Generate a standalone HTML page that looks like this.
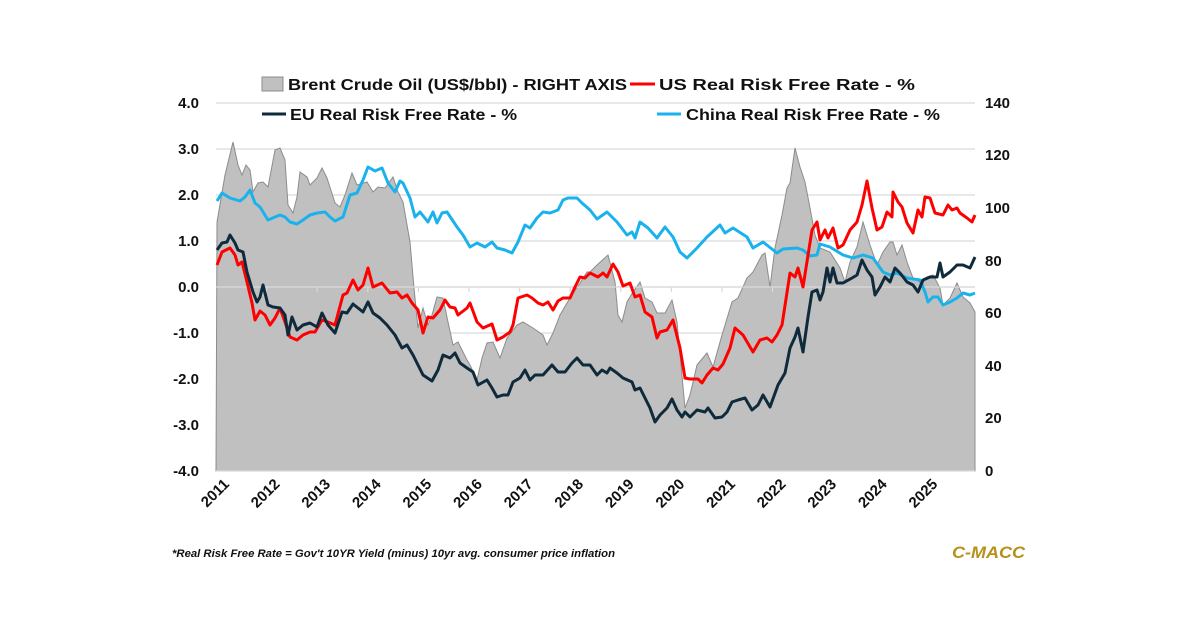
<!DOCTYPE html>
<html><head><meta charset="utf-8"><style>
body{margin:0;background:#fff;}
svg{display:block;font-family:"Liberation Sans",sans-serif;}
</style></head><body>
<svg width="1200" height="627" viewBox="0 0 1200 627" xmlns="http://www.w3.org/2000/svg">
<rect width="1200" height="627" fill="#fff"/>
<g stroke="#d9d9d9" stroke-width="1.2">
<line x1="216" x2="975" y1="103" y2="103"/><line x1="216" x2="975" y1="149" y2="149"/>
<line x1="216" x2="975" y1="195" y2="195"/><line x1="216" x2="975" y1="241" y2="241"/>
<line x1="216" x2="975" y1="287" y2="287"/><line x1="216" x2="975" y1="333" y2="333"/>
<line x1="216" x2="975" y1="379" y2="379"/><line x1="216" x2="975" y1="425" y2="425"/>
</g>
<polygon fill="#c0c0c0" stroke="#8c8c8c" stroke-width="1" points="216,471 217,222 225,175 233,142 238,165 242,175 246,165 250,170 253,192 258,183 263,182 268,187 275,150 280,148 285,160 288,205 293,213 297,197 300,172 307,177 310,185 317,178 322,168 327,178 335,203 340,207 345,195 352,173 357,185 367,182 373,192 378,187 385,188 393,177 398,192 403,202 410,242 414,288 418,328 423,308 428,325 432,315 437,297 443,298 448,322 453,345 458,342 467,360 470,365 477,380 482,358 487,343 493,342 500,358 507,338 517,325 523,322 533,328 543,335 547,345 553,333 560,315 570,298 580,283 587,272 590,272 597,265 608,255 615,282 618,315 622,322 627,302 633,292 640,282 645,298 652,302 657,313 665,313 672,300 677,322 685,408 690,395 697,365 707,353 713,367 722,335 732,302 738,298 747,278 753,272 762,255 765,253 770,287 775,248 782,215 787,188 790,183 795,148 800,167 805,182 810,208 815,235 820,248 830,252 840,268 845,282 850,262 857,247 863,222 870,245 877,265 883,252 890,242 893,242 897,255 902,245 907,262 913,278 920,282 927,277 933,275 940,288 943,305 950,298 957,283 963,297 970,303 975,312 975,471"/>
<g stroke="#d9d9d9" stroke-width="1.2">
<line x1="216" x2="975" y1="287" y2="287"/>
<line x1="266.6" x2="266.6" y1="287" y2="292"/><line x1="317.2" x2="317.2" y1="287" y2="292"/><line x1="367.8" x2="367.8" y1="287" y2="292"/><line x1="418.4" x2="418.4" y1="287" y2="292"/><line x1="469" x2="469" y1="287" y2="292"/><line x1="519.6" x2="519.6" y1="287" y2="292"/><line x1="570.2" x2="570.2" y1="287" y2="292"/><line x1="620.8" x2="620.8" y1="287" y2="292"/><line x1="671.4" x2="671.4" y1="287" y2="292"/><line x1="722" x2="722" y1="287" y2="292"/><line x1="772.6" x2="772.6" y1="287" y2="292"/><line x1="823.2" x2="823.2" y1="287" y2="292"/><line x1="873.8" x2="873.8" y1="287" y2="292"/><line x1="924.4" x2="924.4" y1="287" y2="292"/>
</g>
<line x1="216" x2="975" y1="471" y2="471" stroke="#d9d9d9" stroke-width="1.2"/>
<g fill="none" stroke-width="3" stroke-linejoin="round">
<polyline stroke="#19b2ec" points="217,201 222,193 230,198 240,201 245,197 250,190 255,203 260,207 268,220 275,217 280,215 285,217 290,222 297,224 303,220 310,215 317,213 325,212 330,217 335,221 343,217 350,195 357,193 363,180 368,167 375,171 382,168 388,183 395,192 400,181 403,183 410,198 415,217 420,212 428,222 433,212 437,223 442,213 447,212 457,227 463,235 470,247 477,243 485,247 492,242 497,248 505,250 512,253 518,242 525,225 530,228 537,218 543,212 550,213 558,210 563,200 568,198 577,198 582,203 590,210 597,219 607,212 617,222 627,235 632,232 635,238 640,222 648,228 657,238 665,227 673,237 680,252 687,258 697,248 707,237 720,225 725,233 733,228 747,237 753,248 763,242 777,253 783,249 797,248 803,250 810,256 817,255 820,244 830,247 843,255 853,258 863,255 873,258 883,272 890,275 897,273 907,278 920,280 925,292 928,302 933,297 938,297 943,305 950,302 957,298 963,293 970,295 975,293"/>
<polyline stroke="#ff0000" points="217,265 222,252 230,248 235,255 238,265 242,262 247,282 252,303 255,320 260,311 265,315 270,325 275,318 280,308 285,322 290,337 297,340 303,335 310,332 315,332 322,320 328,322 335,325 343,295 347,293 353,280 358,290 363,285 368,268 373,287 382,283 390,293 397,292 402,298 407,295 412,303 418,310 423,333 428,317 433,318 440,310 445,300 450,307 455,308 458,315 467,308 470,303 477,322 483,328 492,324 497,340 503,337 510,332 513,325 518,298 527,295 532,298 538,303 543,305 548,302 553,310 558,301 563,298 570,298 575,287 580,277 585,278 590,273 598,277 603,273 607,277 613,264 618,272 623,286 630,283 635,297 640,295 645,312 652,317 657,338 660,332 667,330 673,320 680,348 685,378 690,379 698,379 702,383 707,375 713,368 718,370 723,364 730,348 735,328 743,335 753,352 760,340 767,338 772,342 777,335 782,325 790,273 795,277 798,268 803,287 812,230 817,222 820,240 825,230 828,238 833,228 838,248 843,245 850,230 857,222 862,205 867,181 872,208 877,230 882,227 887,212 892,217 893,192 898,202 902,207 907,223 913,233 918,210 922,217 925,197 930,198 935,213 943,215 948,205 952,210 957,208 960,213 967,218 972,222 975,215"/>
<polyline stroke="#0e2a3b" points="217,250 222,243 227,242 230,235 235,243 238,250 243,252 247,272 253,292 257,302 260,297 263,285 268,305 273,307 280,308 285,315 288,335 292,317 297,330 303,325 310,323 317,327 322,313 328,325 335,333 342,312 347,313 353,304 358,308 363,312 368,302 373,313 380,318 387,325 395,335 402,348 407,345 413,355 418,365 423,375 432,381 438,370 443,355 450,358 455,353 460,363 467,368 473,372 478,385 487,380 492,388 497,397 503,395 508,395 513,382 520,378 525,370 530,380 535,375 543,375 552,365 558,372 565,372 572,363 577,358 583,365 590,365 597,375 602,370 607,373 610,368 617,373 623,378 632,382 635,390 640,388 645,398 650,408 655,422 660,415 667,408 672,399 677,410 682,417 685,412 690,417 697,410 705,412 708,408 715,418 722,417 727,412 732,402 738,400 745,398 752,410 758,405 763,395 770,407 778,385 785,373 790,348 795,337 798,328 803,352 808,317 812,292 817,290 820,300 823,292 827,268 830,282 833,268 837,283 843,283 852,278 857,275 862,260 867,270 872,277 875,295 880,287 885,277 890,282 895,268 900,273 907,282 913,285 918,292 923,280 930,277 937,277 940,263 943,277 950,272 957,265 963,265 970,268 975,257"/>
</g>
<g font-size="15" font-weight="bold" fill="#111" text-anchor="end">
<text x="199" y="108">4.0</text><text x="199" y="154">3.0</text><text x="199" y="200">2.0</text><text x="199" y="246">1.0</text><text x="199" y="292">0.0</text><text x="199" y="338">-1.0</text><text x="199" y="384">-2.0</text><text x="199" y="430">-3.0</text><text x="199" y="476">-4.0</text>
</g>
<g font-size="15" font-weight="bold" fill="#111">
<text x="985" y="108">140</text><text x="985" y="160">120</text><text x="985" y="213">100</text><text x="985" y="266">80</text><text x="985" y="318">60</text><text x="985" y="371">40</text><text x="985" y="423">20</text><text x="985" y="476">0</text>
</g>
<g font-size="15" font-weight="bold" fill="#111" text-anchor="end">
<text transform="translate(230,485) rotate(-45)">2011</text><text transform="translate(280.6,485) rotate(-45)">2012</text><text transform="translate(331.2,485) rotate(-45)">2013</text><text transform="translate(381.8,485) rotate(-45)">2014</text><text transform="translate(432.4,485) rotate(-45)">2015</text><text transform="translate(483,485) rotate(-45)">2016</text><text transform="translate(533.6,485) rotate(-45)">2017</text><text transform="translate(584.2,485) rotate(-45)">2018</text><text transform="translate(634.8,485) rotate(-45)">2019</text><text transform="translate(685.4,485) rotate(-45)">2020</text><text transform="translate(736,485) rotate(-45)">2021</text><text transform="translate(786.6,485) rotate(-45)">2022</text><text transform="translate(837.2,485) rotate(-45)">2023</text><text transform="translate(887.8,485) rotate(-45)">2024</text><text transform="translate(938.4,485) rotate(-45)">2025</text>
</g>
<rect x="262" y="77" width="21" height="14" fill="#c0c0c0" stroke="#8c8c8c"/>
<line x1="630" x2="655" y1="84" y2="84" stroke="#ff0000" stroke-width="3"/>
<line x1="262" x2="286" y1="114" y2="114" stroke="#0e2a3b" stroke-width="3"/>
<line x1="657" x2="681" y1="114" y2="114" stroke="#19b2ec" stroke-width="3"/>
<g font-size="16" font-weight="bold" fill="#111">
<text x="288" y="90" textLength="339" lengthAdjust="spacingAndGlyphs">Brent Crude Oil (US$/bbl) - RIGHT AXIS</text>
<text x="659" y="90" textLength="256" lengthAdjust="spacingAndGlyphs">US Real Risk Free Rate - %</text>
<text x="290" y="120" textLength="227" lengthAdjust="spacingAndGlyphs">EU Real Risk Free Rate - %</text>
<text x="686" y="120" textLength="254" lengthAdjust="spacingAndGlyphs">China Real Risk Free Rate - %</text>
</g>
<text x="172" y="557" font-size="11" font-style="italic" font-weight="bold" fill="#111" textLength="443" lengthAdjust="spacingAndGlyphs">*Real Risk Free Rate = Gov't 10YR Yield (minus) 10yr avg. consumer price inflation</text>
<text x="952" y="558" font-size="17" font-style="italic" font-weight="bold" fill="#b8901a" textLength="73" lengthAdjust="spacingAndGlyphs">C-MACC</text>
</svg>
</body></html>
